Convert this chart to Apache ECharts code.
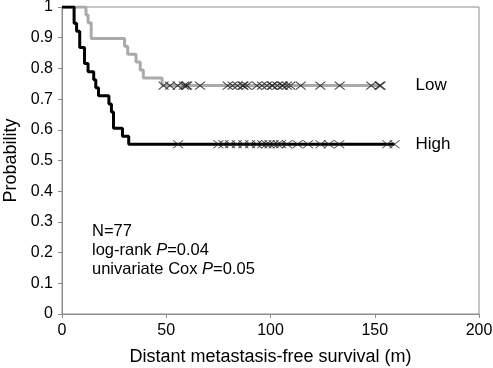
<!DOCTYPE html>
<html>
<head>
<meta charset="utf-8">
<script src="https://cdn.jsdelivr.net/npm/echarts@6/dist/echarts.min.js"></script>
<style>
  html, body { margin: 0; padding: 0; background: #fff; }
  #main { width: 493px; height: 368px; }
</style>
</head>
<body>
<div id="main"></div>
<script>
// Kaplan-Meier steps: time (m) where survival changes, and survival after it
var lowTimes = [0, 11.5, 12.5, 14, 30, 31.5, 35.5, 37.5, 39, 48, 152.8];
var lowSurv  = [1, 0.974, 0.949, 0.897, 0.872, 0.846, 0.821, 0.795, 0.769, 0.744, 0.744];
var highTimes = [0, 5.8, 7, 8.5, 10.8, 12.5, 15.2, 16.2, 17.5, 22.5, 23.7, 24.7, 29, 32, 159.5];
var highSurv  = [1, 0.947, 0.921, 0.868, 0.816, 0.789, 0.763, 0.737, 0.711, 0.684, 0.658, 0.605, 0.579, 0.553, 0.553];

// censored times
var lowCensor = [48.7, 51.8, 55.5, 58.5, 59.5, 60, 66.2, 79.5, 81.8, 84.2, 86.6, 87, 88.6, 93.5, 95.9,
                 98.3, 100.7, 101, 103.3, 105.5, 106, 107.9, 109.5, 114.5, 123.9, 133.2, 148.3, 152.3, 152.8];
var highCensor = [55.7, 75, 77.4, 80.6, 83.8, 87, 90.2, 93.5, 96, 98, 99.5, 101.5, 103.5, 105,
                  108, 113, 118, 124, 128, 133, 156, 159.5];

var xTicks = { min: 0, max: 200, interval: 50 };
var yTicks = { min: 0, max: 1, interval: 0.1 };

function survAt(times, surv, t) {
    var s = surv[0];
    for (var i = 0; i < times.length; i++) {
        if (times[i] <= t) s = surv[i];
    }
    return s;
}
function pairs(a, b) {
    return a.map(function(v, i) { return [v, b[i]]; });
}
function censorPts(c, times, surv) {
    return c.map(function(t) { return [t, survAt(times, surv, t)]; });
}

var chart = echarts.init(document.getElementById('main'));
var font = 'Liberation Sans, Arial, sans-serif';
var crossSymbol = 'path://M0,0L10,10M10,0L0,10';

var option = {
    animation: false,
    backgroundColor: '#fff',
    textStyle: { fontFamily: font },
    grid: {
        left: 62, right: 14, top: 7, bottom: 54,
        outerBoundsMode: 'none',
        containLabel: false,
        show: true, borderColor: '#8c8c8c', borderWidth: 1
    },
    xAxis: {
        type: 'value',
        min: xTicks.min, max: xTicks.max, interval: xTicks.interval,
        name: 'Distant metastasis-free survival (m)',
        nameLocation: 'middle', nameGap: 34,
        nameTextStyle: { fontSize: 18, color: '#000', fontFamily: font },
        axisLine: { lineStyle: { color: '#8c8c8c' } },
        axisTick: { show: true, length: 4, lineStyle: { color: '#8c8c8c' } },
        axisLabel: { fontSize: 16, color: '#000', margin: 9, fontFamily: font },
        splitLine: { show: false }
    },
    yAxis: {
        type: 'value',
        min: yTicks.min, max: yTicks.max, interval: yTicks.interval,
        name: 'Probability',
        nameLocation: 'middle', nameGap: 42,
        nameTextStyle: { fontSize: 18, color: '#000', fontFamily: font },
        axisLine: { show: true, lineStyle: { color: '#8c8c8c' } },
        axisTick: { show: true, length: 4, lineStyle: { color: '#8c8c8c' } },
        axisLabel: { fontSize: 16, color: '#000', margin: 9, fontFamily: font },
        splitLine: { show: false }
    },
    series: [
        {
            name: 'Low', type: 'line', step: 'end', symbol: 'none',
            data: pairs(lowTimes, lowSurv),
            lineStyle: { color: '#aaaaaa', width: 3 },
            endLabel: { show: true, formatter: 'Low', distance: 35, fontSize: 17, color: '#000', fontFamily: font },
            z: 2
        },
        {
            name: 'High', type: 'line', step: 'end', symbol: 'none',
            data: pairs(highTimes, highSurv),
            lineStyle: { color: '#000', width: 3 },
            endLabel: { show: true, formatter: 'High', distance: 21, fontSize: 17, color: '#000', fontFamily: font },
            z: 2
        },
        {
            name: 'Low censored', type: 'scatter', symbol: crossSymbol, symbolSize: [10, 8],
            data: censorPts(lowCensor, lowTimes, lowSurv),
            itemStyle: { color: 'transparent', borderColor: '#222', borderWidth: 1 },
            z: 3
        },
        {
            name: 'High censored', type: 'scatter', symbol: crossSymbol, symbolSize: [10, 8],
            data: censorPts(highCensor, highTimes, highSurv),
            itemStyle: { color: 'transparent', borderColor: '#222', borderWidth: 1 },
            z: 3
        }
    ],
    graphic: [
        {
            type: 'text', left: 92, top: 222,
            style: {
                text: 'N=77\nlog-rank {i|P}=0.04\nunivariate Cox {i|P}=0.05',
                font: '16.5px ' + font,
                fill: '#000',
                lineHeight: 19,
                rich: {
                    i: { fontStyle: 'italic', fontSize: 16.5, fontFamily: font, fill: '#000', lineHeight: 19 }
                }
            }
        }
    ]
};

chart.setOption(option);
</script>
</body>
</html>
